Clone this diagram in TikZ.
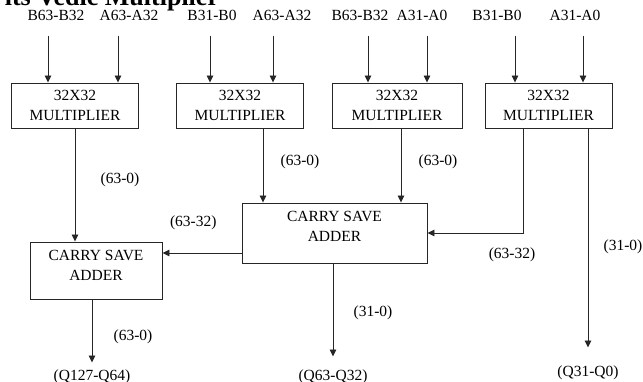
\documentclass[tikz,border=0pt]{standalone}
\usepackage{fontspec}
\setmainfont{Liberation Serif}
\usetikzlibrary{positioning,arrows.meta}

\begin{document}
\begin{tikzpicture}[
      x=1pt, y=-1pt,
      font=\fontsize{15.5}{20}\selectfont,
      line width=0.9pt, draw=black!85,
      mult/.style={draw, align=center, minimum width=127pt, minimum height=45pt, inner sep=0pt},
      csa/.style={draw, inner sep=0pt},
      txt/.style={align=center, inner sep=0pt},
      sig/.style={inner sep=1pt},
      arr/.style={-{Triangle[length=7pt, width=6.5pt]}}]
    \useasboundingbox (0,0) rectangle (643,382);
    \node[font=\bfseries\fontsize{26}{30}\selectfont, anchor=base west] (title) at (1,6) {its Vedic Multiplier};
    % multipliers
    \node[mult] (m1) at (75,105.5) {32X32\\MULTIPLIER};
    \node[mult] (m2) at (240,105.5) {32X32\\MULTIPLIER};
    \node[mult, minimum width=130pt] (m3) at (397,105.5) {32X32\\MULTIPLIER};
    \node[mult] (m4) at (548.5,105.5) {32X32\\MULTIPLIER};
    % carry save adders
    \node[csa, minimum width=185pt, minimum height=60pt] (csa1) at (334.5,233) {};
    \node[txt, below=8.5pt of csa1.north] (csa1t) {CARRY SAVE\\ADDER};
    \node[csa, minimum width=132pt, minimum height=57pt] (csa2) at (96,270.5) {};
    \node[txt, below=8.5pt of csa2.north] (csa2t) {CARRY SAVE\\ADDER};
    % outputs
    \node[sig] (q1) at (92,377) {(Q127-Q64)};
    \node[sig] (q2) at (333,377) {(Q63-Q32)};
    \node[sig] (q3) at (588,373) {(Q31-Q0)};
    % inputs
    \foreach \nm/\txt/\lx/\ax/\bx in {a/B63-B32/56/48/m1, b/A63-A32/129/118/m1,
        c/B31-B0/212/210/m2, d/A63-A32/282/273/m2, e/B63-B32/360/368/m3,
        f/A31-A0/422/427/m3, g/B31-B0/497/515/m4, h/A31-A0/575/583/m4} {
      \node[sig] (in\nm) at (\lx,15) {\txt};
      \coordinate (top\nm) at ([yshift=-14pt]in\nm.south -| \ax,0);
      \draw[arr] (top\nm) -- (top\nm |- \bx.north);
    }
    \draw[arr] (m1.south) -- (m1.south |- csa2.north) node[pos=0.45, xshift=45pt]{(63-0)};
    \draw[arr] ([xshift=23pt]m2.south) -- ([xshift=23pt]m2.south |- csa1.north) node[pos=0.45, xshift=37pt]{(63-0)};
    \draw[arr] ([xshift=4pt]m3.south) -- ([xshift=4pt]m3.south |- csa1.north) node[pos=0.45, xshift=37pt]{(63-0)};
    \draw[arr] ([xshift=-25.5pt]m4.south) |- (csa1.east) node[pos=0.5, xshift=-11pt, yshift=-22pt]{(63-32)};
    \draw[arr] (q3.north |- m4.south) -- ([yshift=17pt]q3.north) node[pos=0.54, xshift=35pt]{(31-0)};
    \draw[arr] ([yshift=-20pt]csa1.west) -- ([yshift=-20pt]csa1.west -| csa2.east) node[pos=0.61, yshift=30pt]{(63-32)};
    \draw[arr] (q2.north |- csa1.south) -- ([yshift=12pt]q2.north) node[pos=0.53, xshift=40pt]{(31-0)};
    \draw[arr] (q1.north |- csa2.south) -- ([yshift=6pt]q1.north) node[pos=0.59, xshift=41pt]{(63-0)};
  \end{tikzpicture}
\end{document}
